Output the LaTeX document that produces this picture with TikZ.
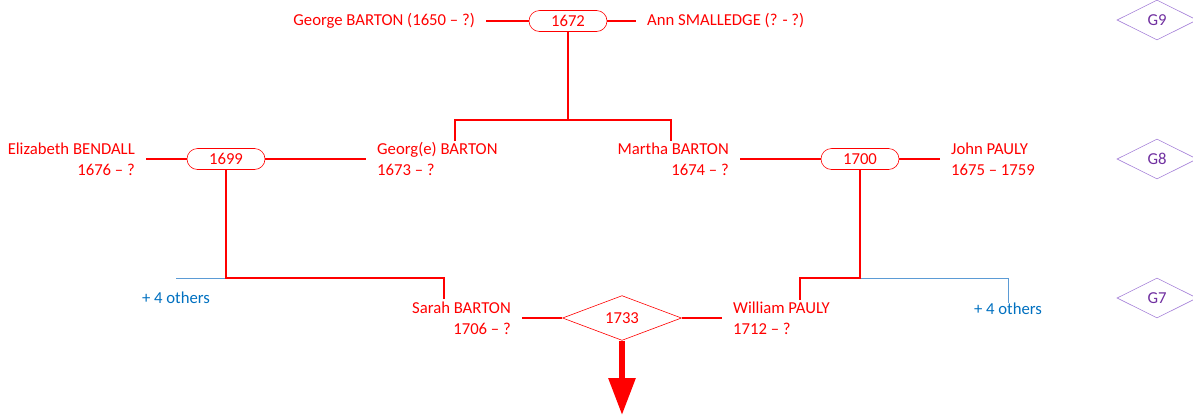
\documentclass[tikz,border=0pt]{standalone}
\usepackage{fontspec}
\setmainfont{Carlito}
\usetikzlibrary{shapes.geometric,shapes.misc,arrows.meta}
\definecolor{othertext}{HTML}{0070C0}
\definecolor{otherline}{HTML}{5B9BD5}
\definecolor{gentext}{HTML}{7030A0}
\definecolor{genline}{HTML}{A580D8}
\begin{document}
\begin{tikzpicture}[x=1pt,y=-1pt,
 every node/.style={font=\fontsize{16.7}{21}\selectfont},
 person/.style={text=red, inner xsep=11pt, inner ysep=0pt},
 marriage/.style={rounded rectangle, draw=red, line width=0.6pt, text=red, minimum width=78pt, minimum height=21pt, inner sep=0pt},
 wedding/.style={diamond, draw=red, line width=0.6pt, text=red, minimum width=119pt, minimum height=39pt, inner sep=0pt},
 link/.style={draw=red, line width=2.2pt},
 other/.style={text=othertext, inner sep=0pt},
 otherlink/.style={draw=otherline, line width=1pt},
 gen/.style={diamond, draw=genline, text=gentext, line width=0.6pt, minimum width=80pt, minimum height=40pt, inner sep=0pt}]
\useasboundingbox (0,0) rectangle (1193,416);

% generation markers
\node[gen] (g9) at (1157,20) {G9};
\node[gen] (g8) at (1157,159) {G8};
\node[gen] (g7) at (1157,298) {G7};

% G9
\node[marriage] (m1672) at (568,21) {1672};
\node[person, anchor=east] (george) at (486,21) {George BARTON (1650 – ?)};
\node[person, anchor=west] (ann) at (636,21) {Ann SMALLEDGE (? - ?)};
\draw[link] (george.east) -- (m1672.west);
\draw[link] (m1672.east) -- (ann.west);

% G8
\node[marriage] (m1699) at (226,159) {1699};
\node[person, anchor=east, align=right] (eliz) at (146,159) {Elizabeth BENDALL\\1676 – ?};
\node[person, anchor=west, align=left] (georg) at (366,159) {Georg(e) BARTON\\1673 – ?};
\draw[link] (eliz.east) -- (m1699.west);
\draw[link] (m1699.east) -- (georg.west);

\node[marriage] (m1700) at (860,159) {1700};
\node[person, anchor=east, align=right] (martha) at (740,159) {Martha BARTON\\1674 – ?};
\node[person, anchor=west, align=left] (john) at (940,159) {John PAULY\\1675 – 1759};
\draw[link] (martha.east) -- (m1700.west);
\draw[link] (m1700.east) -- (john.west);

% children of 1672
\coordinate (j1672) at (568,120);
\coordinate (georgdrop) at (455,141);
\coordinate (marthadrop) at (671,141);
\draw[link] (m1672.south) -- (j1672);
\draw[link] (georgdrop) |- (j1672) -| (marthadrop);

% G7
\node[wedding] (m1733) at (622,318) {1733};
\node[person, anchor=east, align=right] (sarah) at (522,318) {Sarah BARTON\\1706 – ?};
\node[person, anchor=west, align=left] (william) at (722,318) {William PAULY\\1712 – ?};
\draw[link] (sarah.east) -- (m1733.west);
\draw[link] (m1733.east) -- (william.west);

\node[other] (othersL) at (176,298) {+ 4 others};
\node[other] (othersR) at (1008,309) {+ 4 others};

% children of 1699
\coordinate (j1699) at (226,278);
\coordinate (sarahdrop) at (444,299);
\draw[otherlink] (othersL.north |- j1699) -- (j1699);
\draw[link] (m1699.south) -- (j1699) -| (sarahdrop);

% children of 1700
\coordinate (j1700) at (860,278);
\coordinate (williamdrop) at (800,300);
\draw[otherlink] (j1700) -| (othersR.north);
\draw[link] (m1700.south) -- (j1700) -| (williamdrop);

% descent arrow
\coordinate (arrowend) at (622,415);
\draw[draw=red, line width=6pt, -{Triangle[width=26pt,length=37pt]}] (m1733.south) -- (arrowend);
\end{tikzpicture}
\end{document}
